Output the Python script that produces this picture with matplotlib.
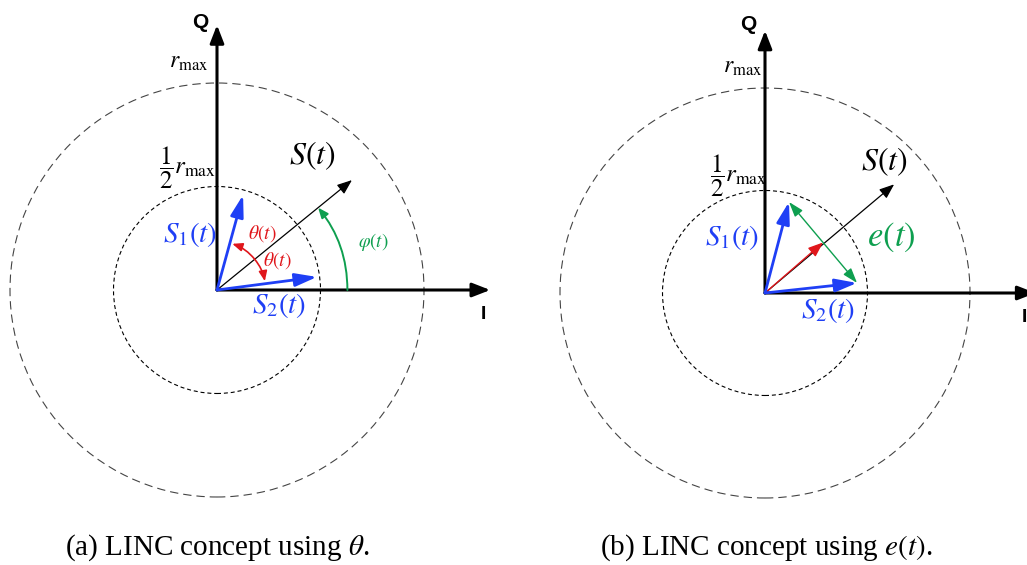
import numpy as np
import matplotlib
matplotlib.use("Agg")
import matplotlib.pyplot as plt
from matplotlib.patches import Circle

plt.rcParams['font.family'] = ['Liberation Serif', 'DejaVu Serif']
plt.rcParams['mathtext.fontset'] = 'stix'

# radii of the two reference circles (r_max = 1)
r_half = 0.5
r_max = 1.0

# phasor tips (x, y) in units of r_max
a_s = (0.652, 0.531)
a_s1 = (0.126, 0.459)
a_s2 = (0.483, 0.063)
b_s = (0.63, 0.53)
b_s1 = (0.117, 0.444)
b_s2 = (0.449, 0.049)

theta_r = 0.235   # radius of the theta arcs
phi_r = 0.63      # radius of the phi arc

captions = [r'(a) LINC concept using $\theta$.', r'(b) LINC concept using $e(t)$.']

BLUE = '#1f3ff5'
RED = '#e0161b'
GREEN = '#0e9f4f'

W, H = 1027, 565
fig = plt.figure(figsize=(W / 100, H / 100), dpi=100)


def make_axes(px0, px1, ox, oy, s):
    # axes covering pixel columns px0..px1 and rows 0..520, origin at (ox, oy)
    ax = fig.add_axes([px0 / W, (H - 520) / H, (px1 - px0) / W, 520 / H])
    ax.set_xlim(-(ox - px0) / s, (px1 - ox) / s)
    ax.set_ylim(-(520 - oy) / s, oy / s)
    ax.set_aspect('auto')
    ax.axis('off')
    return ax


def arrow(ax, tip, start=(0, 0), color='k', lw=1.0, hl=0.8, hw=0.35, ms=12, style='-|>'):
    ax.annotate('', xy=tip, xytext=start,
                arrowprops=dict(arrowstyle=f'{style},head_length={hl},head_width={hw}',
                                color=color, lw=lw, mutation_scale=ms,
                                shrinkA=0, shrinkB=0), annotation_clip=False)


def arc(ax, r, a0, a1, color, lw=1.2):
    p0 = (r * np.cos(np.radians(a0)), r * np.sin(np.radians(a0)))
    p1 = (r * np.cos(np.radians(a1)), r * np.sin(np.radians(a1)))
    rad = np.tan(np.radians(a1 - a0) / 2) / 2
    ax.annotate('', xy=p1, xytext=p0,
                arrowprops=dict(arrowstyle='-|>,head_length=0.6,head_width=0.25',
                                connectionstyle=f'arc3,rad={rad}',
                                color=color, lw=lw, mutation_scale=10,
                                shrinkA=0, shrinkB=0))


def frame(ax, qlen, ilen):
    ax.add_patch(Circle((0, 0), r_max, fill=False, ec='#444444', lw=0.8,
                        linestyle=(0, (7.5, 4.5))))
    ax.add_patch(Circle((0, 0), r_half, fill=False, ec='black', lw=0.8,
                        linestyle=(0, (3.6, 2.6))))
    arrow(ax, (0, qlen), lw=2.2, hl=0.9, hw=0.35, ms=12)
    arrow(ax, (ilen, 0), lw=2.2, hl=0.9, hw=0.35, ms=12)


def ang(p):
    return np.degrees(np.arctan2(p[1], p[0]))


# ---- panel (a)
ax = make_axes(0, 513, 217, 290, 207)
frame(ax, 1.28, 1.32)
ax.text(-0.08, 1.29, 'Q', family='Liberation Sans', weight='bold', fontsize=15,
        ha='center', va='center')
ax.text(1.285, -0.12, 'I', family='Liberation Sans', weight='bold', fontsize=14,
        ha='center', va='center')
ax.text(-0.135, 1.10, r'$r_{\mathrm{max}}$', fontsize=17, ha='center', va='center')
ax.text(-0.14, 0.59, r'$\dfrac{1}{2}r_{\mathrm{max}}$', fontsize=18, ha='center', va='center')
arrow(ax, a_s, lw=0.9, hl=0.9, hw=0.35, ms=10)
arrow(ax, a_s1, color=BLUE, lw=2.0, hl=1.1, hw=0.33, ms=12)
arrow(ax, a_s2, color=BLUE, lw=2.0, hl=1.1, hw=0.33, ms=12)
arc(ax, theta_r, ang(a_s), ang(a_s1) - 3, RED)
arc(ax, theta_r, ang(a_s), ang(a_s2) + 3, RED)
arc(ax, phi_r, 0, ang(a_s), GREEN, lw=1.4)
ax.text(0.46, 0.65, r'$S(t)$', fontsize=23, ha='center', va='center')
ax.text(-0.13, 0.27, r'$S_1(t)$', fontsize=21, color=BLUE, ha='center', va='center')
ax.text(0.30, -0.075, r'$S_2(t)$', fontsize=21, color=BLUE, ha='center', va='center')
ax.text(0.22, 0.275, r'$\theta(t)$', fontsize=14, color=RED, ha='center', va='center')
ax.text(0.29, 0.14, r'$\theta(t)$', fontsize=14, color=RED, ha='center', va='center')
ax.text(0.755, 0.23, r'$\varphi(t)$', fontsize=13.5, color=GREEN, ha='center', va='center')

# ---- panel (b)
ax = make_axes(513, 1027, 765, 293, 205)
frame(ax, 1.28, 1.32)
ax.text(-0.083, 1.31, 'Q', family='Liberation Sans', weight='bold', fontsize=15,
        ha='center', va='center')
ax.text(1.277, -0.12, 'I', family='Liberation Sans', weight='bold', fontsize=14,
        ha='right', va='center')
ax.text(-0.11, 1.10, r'$r_{\mathrm{max}}$', fontsize=17, ha='center', va='center')
ax.text(-0.13, 0.575, r'$\dfrac{1}{2}r_{\mathrm{max}}$', fontsize=18, ha='center', va='center')
mid = ((b_s1[0] + b_s2[0]) / 2, (b_s1[1] + b_s2[1]) / 2)
arrow(ax, b_s, lw=0.9, hl=0.9, hw=0.35, ms=10)
arrow(ax, mid, color=RED, lw=1.0, hl=0.9, hw=0.35, ms=10)
arrow(ax, b_s1, color=BLUE, lw=2.0, hl=1.1, hw=0.33, ms=12)
arrow(ax, b_s2, color=BLUE, lw=2.0, hl=1.1, hw=0.33, ms=12)
arrow(ax, b_s2, start=b_s1, color=GREEN, lw=1.0, hl=0.9, hw=0.3, ms=10, style='<|-|>')
ax.text(0.58, 0.64, r'$S(t)$', fontsize=23, ha='center', va='center')
ax.text(0.615, 0.27, r'$e(t)$', fontsize=25, color=GREEN, ha='center', va='center')
ax.text(-0.16, 0.27, r'$S_1(t)$', fontsize=21, color=BLUE, ha='center', va='center')
ax.text(0.31, -0.085, r'$S_2(t)$', fontsize=21, color=BLUE, ha='center', va='center')

fig.text(217 / W, 1 - 548 / H, captions[0], fontsize=21, ha='center', va='center')
fig.text(766 / W, 1 - 548 / H, captions[1], fontsize=21, ha='center', va='center')

fig.savefig('out.png', dpi=100)
